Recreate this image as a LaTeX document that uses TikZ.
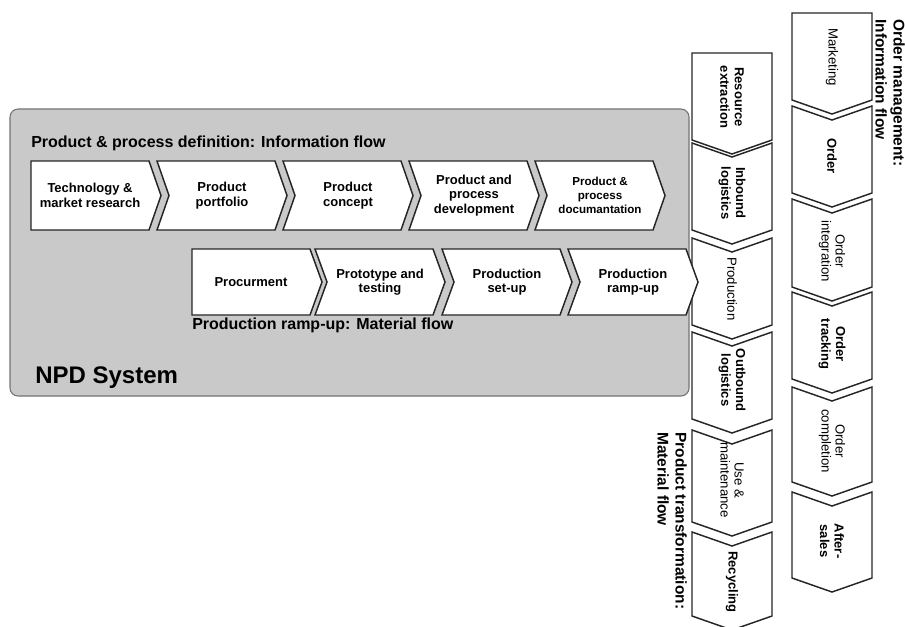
\documentclass[tikz,border=0pt]{standalone}
\usepackage{fontspec}
\setmainfont{Liberation Sans}
\tikzset{
  chev/.style={draw=black!85, line width=1.1pt, fill=white, line join=miter},
  htext/.style={font=\bfseries\fontsize{9.75}{10.8}\selectfont, align=center, inner sep=0pt},
  vtext/.style={font=\bfseries\fontsize{9.75}{11}\selectfont, align=center, inner sep=0pt, rotate=-90},
  vthin/.style={font=\fontsize{9.9}{10.5}\selectfont},
  flowtitle/.style={font=\bfseries\fontsize{12}{13}\selectfont, anchor=west, inner sep=0pt},
  sidetitle/.style={font=\bfseries\fontsize{11.6}{13.4}\selectfont, align=left, inner sep=0pt, rotate=-90, anchor=north west},
  npdbox/.style={draw=black!55, line width=0.8pt, fill=black!21, rounded corners=6}
}
% horizontal chevron: {name}{left}{top}{bottom}{notch depth}
\newcommand{\chevE}[5]{%
  \draw[chev] (#2,#3) -- ({#2+118},#3) -- ({#2+130},{(#3+#4)/2}) -- ({#2+118},#4)
    -- (#2,#4) -- ({#2+#5},{(#3+#4)/2}) -- cycle;
}
% downward chevron, 80 wide: {name}{left}{top}{bottom}{notch depth}
\newcommand{\chevS}[5]{%
  \draw[chev] (#2,#3) -- ({#2+40},{#3+#5}) -- ({#2+80},#3) -- ({#2+80},#4)
    -- ({#2+40},{#4+14}) -- (#2,#4) -- cycle;
}
\begin{document}
\begin{tikzpicture}[x=0.75pt,y=-0.75pt]
\useasboundingbox (0,0) rectangle (905,626);

% ---------- product transformation column ----------
\chevS{c1}{692}{53}{140}{0}
\chevS{c2}{692}{143}{230}{14}
\chevS{c3}{692}{238}{325}{14}
\chevS{c4}{692}{332}{419}{14}
\chevS{c5}{692}{430}{522}{14}
\chevS{c6}{692}{532}{616}{14}
\node[vtext] (resx) at (732,97) {Resource\\extraction};
\node[vtext] (inb) at (732,193) {Inbound\\logistics};
\node[vtext,vthin] (prodc) at (732,289) {Production};
\node[vtext] (outb) at (732,380) {Outbound\\logistics};
\node[vtext,vthin] (usem) at (732,480) {Use \&\\maintenance};
\node[vtext] (recy) at (732,582) {Recycling};
\node[sidetitle] (ptlabel) at (687,432) {Product transformation:\\Material flow};

% ---------- order management column ----------
\chevS{o1}{792}{13}{100}{0}
\chevS{o2}{792}{106}{193}{14}
\chevS{o3}{792}{199}{287}{14}
\chevS{o4}{792}{292}{379}{14}
\chevS{o5}{792}{387}{482}{14}
\chevS{o6}{792}{492}{578}{14}
\node[vtext,vthin] (mkt) at (832,57) {Marketing};
\node[vtext] (ord) at (832,156) {Order};
\node[vtext,vthin] (ordint) at (832,251) {Order\\integration};
\node[vtext] (ordtr) at (832,344) {Order\\tracking};
\node[vtext,vthin] (ordcp) at (832,441) {Order\\completion};
\node[vtext] (after) at (832,541) {After-\\sales};
\node[sidetitle] (omlabel) at (905,19) {Order management:\\Information flow};

% ---------- NPD system ----------
\draw[npdbox] (10,109) rectangle (689,396);
\node[flowtitle] (pdtitle) at (31,143) {Product \& process definition: Information flow};

\chevE{t1}{31}{161}{230}{0}
\chevE{t2}{157}{161}{230}{12}
\chevE{t3}{283}{161}{230}{12}
\chevE{t4}{409}{161}{230}{12}
\chevE{t5}{535}{161}{230}{12}
\node[htext] (tech) at (90,195.5) {Technology \&\\market research};
\node[htext] (portf) at (222,195.5) {Product\\portfolio};
\node[htext] (conc) at (348,195.5) {Product\\concept};
\node[htext] (ppdev) at (474,195.5) {Product and\\process\\development};
\node[htext,font=\bfseries\fontsize{8.7}{10.6}\selectfont] (ppdoc) at (600,195.5) {Product \&\\process\\documantation};

\chevE{b1}{192}{249}{315}{0}
\chevE{b2}{315}{249}{315}{12}
\chevE{b3}{442}{249}{315}{12}
\chevE{b4}{568}{249}{315}{12}
\node[htext] (proc) at (251,282) {Procurment};
\node[htext] (proto) at (380,282) {Prototype and\\testing};
\node[htext] (setup) at (507,282) {Production\\set-up};
\node[htext] (ramp) at (633,282) {Production\\ramp-up};
\node[flowtitle] (prtitle) at (192,325) {Production ramp-up: Material flow};

\node[font=\bfseries\fontsize{18}{20}\selectfont, anchor=west, inner sep=0pt] (npd) at (35,378) {NPD System};
\end{tikzpicture}
\end{document}
